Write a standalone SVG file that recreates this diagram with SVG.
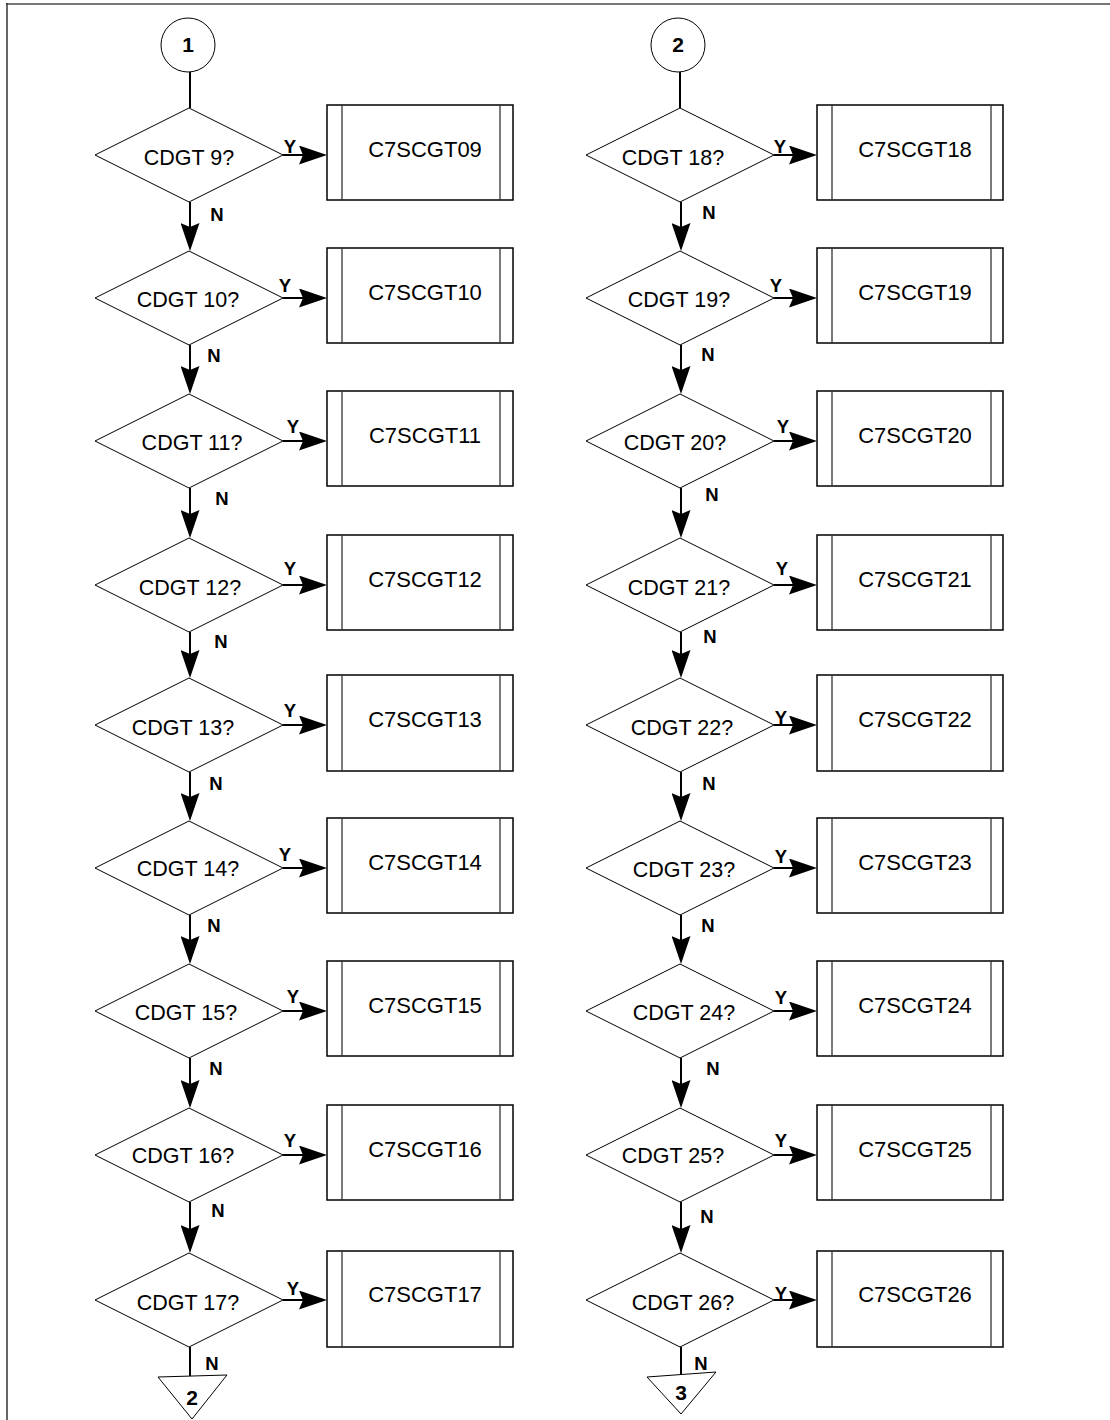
<svg xmlns="http://www.w3.org/2000/svg" width="1110" height="1420" viewBox="0 0 1110 1420">
<style>
.bg{fill:#ffffff}
.dia{fill:#ffffff;stroke:#000;stroke-width:1}
.box{fill:#ffffff;stroke:#000;stroke-width:1.5}
.inner{stroke:#333;stroke-width:1.3}
.term{fill:#ffffff;stroke:#000;stroke-width:1}
.conn{stroke:#000;stroke-width:2;fill:none}
.t{font-family:"Liberation Sans",Arial,sans-serif;font-size:21.5px;fill:#000;text-anchor:middle}
.bt{font-family:"Liberation Sans",Arial,sans-serif;font-size:22px;fill:#000;text-anchor:middle}
.lbl{font-family:"Liberation Sans",Arial,sans-serif;font-size:18.5px;font-weight:bold;fill:#000;text-anchor:middle}
.num{font-family:"Liberation Sans",Arial,sans-serif;font-size:21px;font-weight:bold;fill:#000;text-anchor:middle}
</style>
<defs>
<marker id="ah" viewBox="0 0 28 19" refX="22" refY="9.5" markerWidth="28" markerHeight="19" markerUnits="userSpaceOnUse" orient="auto">
<path d="M0,0 L28,9.5 L0,19 L4,9.5 Z" fill="#000"/>
</marker>
</defs>
<rect class="bg" x="0" y="0" width="1110" height="1420"/>
<g id="frame">
<line x1="6" y1="4" x2="1110" y2="4" stroke="#777" stroke-width="2"/>
<line x1="7" y1="3" x2="7" y2="1420" stroke="#333" stroke-width="1.5"/>
</g>

<g id="connectors">
<line class="conn" x1="190" y1="72" x2="190" y2="108"/>
<line class="conn" x1="283" y1="155" x2="321" y2="155" marker-end="url(#ah)"/>
<line class="conn" x1="190" y1="202" x2="190" y2="245" marker-end="url(#ah)"/>
<line class="conn" x1="283" y1="298" x2="321" y2="298" marker-end="url(#ah)"/>
<line class="conn" x1="190" y1="345" x2="190" y2="388" marker-end="url(#ah)"/>
<line class="conn" x1="283" y1="441" x2="321" y2="441" marker-end="url(#ah)"/>
<line class="conn" x1="190" y1="488" x2="190" y2="532" marker-end="url(#ah)"/>
<line class="conn" x1="283" y1="585" x2="321" y2="585" marker-end="url(#ah)"/>
<line class="conn" x1="190" y1="632" x2="190" y2="672" marker-end="url(#ah)"/>
<line class="conn" x1="283" y1="725" x2="321" y2="725" marker-end="url(#ah)"/>
<line class="conn" x1="190" y1="772" x2="190" y2="815" marker-end="url(#ah)"/>
<line class="conn" x1="283" y1="868" x2="321" y2="868" marker-end="url(#ah)"/>
<line class="conn" x1="190" y1="915" x2="190" y2="958" marker-end="url(#ah)"/>
<line class="conn" x1="283" y1="1011" x2="321" y2="1011" marker-end="url(#ah)"/>
<line class="conn" x1="190" y1="1058" x2="190" y2="1102" marker-end="url(#ah)"/>
<line class="conn" x1="283" y1="1155" x2="321" y2="1155" marker-end="url(#ah)"/>
<line class="conn" x1="190" y1="1202" x2="190" y2="1247" marker-end="url(#ah)"/>
<line class="conn" x1="283" y1="1300" x2="321" y2="1300" marker-end="url(#ah)"/>
<line class="conn" x1="190" y1="1347" x2="190" y2="1380"/>
<line class="conn" x1="680" y1="72" x2="680" y2="108"/>
<line class="conn" x1="774" y1="155" x2="811" y2="155" marker-end="url(#ah)"/>
<line class="conn" x1="681" y1="202" x2="681" y2="245" marker-end="url(#ah)"/>
<line class="conn" x1="774" y1="298" x2="811" y2="298" marker-end="url(#ah)"/>
<line class="conn" x1="681" y1="345" x2="681" y2="388" marker-end="url(#ah)"/>
<line class="conn" x1="774" y1="441" x2="811" y2="441" marker-end="url(#ah)"/>
<line class="conn" x1="681" y1="488" x2="681" y2="532" marker-end="url(#ah)"/>
<line class="conn" x1="774" y1="585" x2="811" y2="585" marker-end="url(#ah)"/>
<line class="conn" x1="681" y1="632" x2="681" y2="672" marker-end="url(#ah)"/>
<line class="conn" x1="774" y1="725" x2="811" y2="725" marker-end="url(#ah)"/>
<line class="conn" x1="681" y1="772" x2="681" y2="815" marker-end="url(#ah)"/>
<line class="conn" x1="774" y1="868" x2="811" y2="868" marker-end="url(#ah)"/>
<line class="conn" x1="681" y1="915" x2="681" y2="958" marker-end="url(#ah)"/>
<line class="conn" x1="774" y1="1011" x2="811" y2="1011" marker-end="url(#ah)"/>
<line class="conn" x1="681" y1="1058" x2="681" y2="1102" marker-end="url(#ah)"/>
<line class="conn" x1="774" y1="1155" x2="811" y2="1155" marker-end="url(#ah)"/>
<line class="conn" x1="681" y1="1202" x2="681" y2="1247" marker-end="url(#ah)"/>
<line class="conn" x1="774" y1="1300" x2="811" y2="1300" marker-end="url(#ah)"/>
<line class="conn" x1="681" y1="1347" x2="681" y2="1378"/>
<text class="lbl" x="290" y="153">Y</text>
<text class="lbl" x="285" y="292">Y</text>
<text class="lbl" x="293" y="433">Y</text>
<text class="lbl" x="290" y="575">Y</text>
<text class="lbl" x="290" y="717">Y</text>
<text class="lbl" x="285" y="861">Y</text>
<text class="lbl" x="293" y="1003">Y</text>
<text class="lbl" x="290" y="1147">Y</text>
<text class="lbl" x="293" y="1295">Y</text>
<text class="lbl" x="217" y="221">N</text>
<text class="lbl" x="214" y="362">N</text>
<text class="lbl" x="222" y="505">N</text>
<text class="lbl" x="221" y="648">N</text>
<text class="lbl" x="216" y="790">N</text>
<text class="lbl" x="214" y="932">N</text>
<text class="lbl" x="216" y="1075">N</text>
<text class="lbl" x="218" y="1217">N</text>
<text class="lbl" x="212" y="1370">N</text>
<text class="lbl" x="780" y="153">Y</text>
<text class="lbl" x="776" y="292">Y</text>
<text class="lbl" x="783" y="433">Y</text>
<text class="lbl" x="782" y="575">Y</text>
<text class="lbl" x="781" y="724">Y</text>
<text class="lbl" x="781" y="863">Y</text>
<text class="lbl" x="781" y="1004">Y</text>
<text class="lbl" x="781" y="1147">Y</text>
<text class="lbl" x="781" y="1300">Y</text>
<text class="lbl" x="709" y="219">N</text>
<text class="lbl" x="708" y="361">N</text>
<text class="lbl" x="712" y="501">N</text>
<text class="lbl" x="710" y="643">N</text>
<text class="lbl" x="709" y="790">N</text>
<text class="lbl" x="708" y="932">N</text>
<text class="lbl" x="713" y="1075">N</text>
<text class="lbl" x="707" y="1223">N</text>
<text class="lbl" x="701" y="1370">N</text>
</g>

<g id="start1"><circle class="term" cx="188" cy="45" r="27"/><text class="num" x="188" y="52">1</text></g>
<g id="start2"><circle class="term" cx="678" cy="45" r="27"/><text class="num" x="678" y="52">2</text></g>

<g id="d9"><polygon class="dia" points="95,155 189,108 283,155 189,202"/><text class="t" x="189" y="165">CDGT 9?</text></g>
<g id="d10"><polygon class="dia" points="95,298 189,251 283,298 189,345"/><text class="t" x="188" y="307">CDGT 10?</text></g>
<g id="d11"><polygon class="dia" points="95,441 189,394 283,441 189,488"/><text class="t" x="192" y="450">CDGT 11?</text></g>
<g id="d12"><polygon class="dia" points="95,585 189,538 283,585 189,632"/><text class="t" x="190" y="595">CDGT 12?</text></g>
<g id="d13"><polygon class="dia" points="95,725 189,678 283,725 189,772"/><text class="t" x="183" y="735">CDGT 13?</text></g>
<g id="d14"><polygon class="dia" points="95,868 189,821 283,868 189,915"/><text class="t" x="188" y="876">CDGT 14?</text></g>
<g id="d15"><polygon class="dia" points="95,1011 189,964 283,1011 189,1058"/><text class="t" x="186" y="1020">CDGT 15?</text></g>
<g id="d16"><polygon class="dia" points="95,1155 189,1108 283,1155 189,1202"/><text class="t" x="183" y="1163">CDGT 16?</text></g>
<g id="d17"><polygon class="dia" points="95,1300 189,1253 283,1300 189,1347"/><text class="t" x="188" y="1310">CDGT 17?</text></g>

<g id="p09"><rect class="box" x="327" y="105" width="186" height="95"/><line class="inner" x1="342" y1="105" x2="342" y2="200"/><line class="inner" x1="500" y1="105" x2="500" y2="200"/><text class="bt" x="425" y="157">C7SCGT09</text></g>
<g id="p10"><rect class="box" x="327" y="248" width="186" height="95"/><line class="inner" x1="342" y1="248" x2="342" y2="343"/><line class="inner" x1="500" y1="248" x2="500" y2="343"/><text class="bt" x="425" y="300">C7SCGT10</text></g>
<g id="p11"><rect class="box" x="327" y="391" width="186" height="95"/><line class="inner" x1="342" y1="391" x2="342" y2="486"/><line class="inner" x1="500" y1="391" x2="500" y2="486"/><text class="bt" x="425" y="443">C7SCGT11</text></g>
<g id="p12"><rect class="box" x="327" y="535" width="186" height="95"/><line class="inner" x1="342" y1="535" x2="342" y2="630"/><line class="inner" x1="500" y1="535" x2="500" y2="630"/><text class="bt" x="425" y="587">C7SCGT12</text></g>
<g id="p13"><rect class="box" x="327" y="675" width="186" height="96"/><line class="inner" x1="342" y1="675" x2="342" y2="771"/><line class="inner" x1="500" y1="675" x2="500" y2="771"/><text class="bt" x="425" y="727">C7SCGT13</text></g>
<g id="p14"><rect class="box" x="327" y="818" width="186" height="95"/><line class="inner" x1="342" y1="818" x2="342" y2="913"/><line class="inner" x1="500" y1="818" x2="500" y2="913"/><text class="bt" x="425" y="870">C7SCGT14</text></g>
<g id="p15"><rect class="box" x="327" y="961" width="186" height="95"/><line class="inner" x1="342" y1="961" x2="342" y2="1056"/><line class="inner" x1="500" y1="961" x2="500" y2="1056"/><text class="bt" x="425" y="1013">C7SCGT15</text></g>
<g id="p16"><rect class="box" x="327" y="1105" width="186" height="95"/><line class="inner" x1="342" y1="1105" x2="342" y2="1200"/><line class="inner" x1="500" y1="1105" x2="500" y2="1200"/><text class="bt" x="425" y="1157">C7SCGT16</text></g>
<g id="p17"><rect class="box" x="327" y="1251" width="186" height="96"/><line class="inner" x1="342" y1="1251" x2="342" y2="1347"/><line class="inner" x1="500" y1="1251" x2="500" y2="1347"/><text class="bt" x="425" y="1302">C7SCGT17</text></g>

<g id="d18"><polygon class="dia" points="586,155 680,108 774,155 680,202"/><text class="t" x="673" y="165">CDGT 18?</text></g>
<g id="d19"><polygon class="dia" points="586,298 680,251 774,298 680,345"/><text class="t" x="679" y="307">CDGT 19?</text></g>
<g id="d20"><polygon class="dia" points="586,441 680,394 774,441 680,488"/><text class="t" x="675" y="450">CDGT 20?</text></g>
<g id="d21"><polygon class="dia" points="586,585 680,538 774,585 680,632"/><text class="t" x="679" y="595">CDGT 21?</text></g>
<g id="d22"><polygon class="dia" points="586,725 680,678 774,725 680,772"/><text class="t" x="682" y="735">CDGT 22?</text></g>
<g id="d23"><polygon class="dia" points="586,868 680,821 774,868 680,915"/><text class="t" x="684" y="877">CDGT 23?</text></g>
<g id="d24"><polygon class="dia" points="586,1011 680,964 774,1011 680,1058"/><text class="t" x="684" y="1020">CDGT 24?</text></g>
<g id="d25"><polygon class="dia" points="586,1155 680,1108 774,1155 680,1202"/><text class="t" x="673" y="1163">CDGT 25?</text></g>
<g id="d26"><polygon class="dia" points="586,1300 680,1253 774,1300 680,1347"/><text class="t" x="683" y="1310">CDGT 26?</text></g>

<g id="p18"><rect class="box" x="817" y="105" width="186" height="95"/><line class="inner" x1="832" y1="105" x2="832" y2="200"/><line class="inner" x1="991" y1="105" x2="991" y2="200"/><text class="bt" x="915" y="157">C7SCGT18</text></g>
<g id="p19"><rect class="box" x="817" y="248" width="186" height="95"/><line class="inner" x1="832" y1="248" x2="832" y2="343"/><line class="inner" x1="991" y1="248" x2="991" y2="343"/><text class="bt" x="915" y="300">C7SCGT19</text></g>
<g id="p20"><rect class="box" x="817" y="391" width="186" height="95"/><line class="inner" x1="832" y1="391" x2="832" y2="486"/><line class="inner" x1="991" y1="391" x2="991" y2="486"/><text class="bt" x="915" y="443">C7SCGT20</text></g>
<g id="p21"><rect class="box" x="817" y="535" width="186" height="95"/><line class="inner" x1="832" y1="535" x2="832" y2="630"/><line class="inner" x1="991" y1="535" x2="991" y2="630"/><text class="bt" x="915" y="587">C7SCGT21</text></g>
<g id="p22"><rect class="box" x="817" y="675" width="186" height="96"/><line class="inner" x1="832" y1="675" x2="832" y2="771"/><line class="inner" x1="991" y1="675" x2="991" y2="771"/><text class="bt" x="915" y="727">C7SCGT22</text></g>
<g id="p23"><rect class="box" x="817" y="818" width="186" height="95"/><line class="inner" x1="832" y1="818" x2="832" y2="913"/><line class="inner" x1="991" y1="818" x2="991" y2="913"/><text class="bt" x="915" y="870">C7SCGT23</text></g>
<g id="p24"><rect class="box" x="817" y="961" width="186" height="95"/><line class="inner" x1="832" y1="961" x2="832" y2="1056"/><line class="inner" x1="991" y1="961" x2="991" y2="1056"/><text class="bt" x="915" y="1013">C7SCGT24</text></g>
<g id="p25"><rect class="box" x="817" y="1105" width="186" height="95"/><line class="inner" x1="832" y1="1105" x2="832" y2="1200"/><line class="inner" x1="991" y1="1105" x2="991" y2="1200"/><text class="bt" x="915" y="1157">C7SCGT25</text></g>
<g id="p26"><rect class="box" x="817" y="1251" width="186" height="96"/><line class="inner" x1="832" y1="1251" x2="832" y2="1347"/><line class="inner" x1="991" y1="1251" x2="991" y2="1347"/><text class="bt" x="915" y="1302">C7SCGT26</text></g>

<g id="off2"><polygon class="term" points="158,1377 227,1375 192,1419"/><text class="num" x="192" y="1405">2</text></g>
<g id="off3"><polygon class="term" points="647,1377 716,1372 681,1414"/><text class="num" x="681" y="1400">3</text></g>
</svg>
